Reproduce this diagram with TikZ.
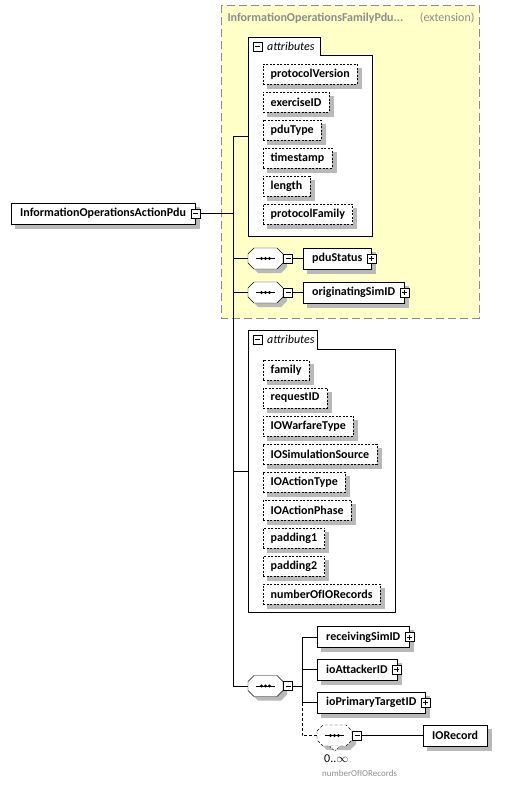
\documentclass[tikz,border=0pt]{standalone}
\usepackage{fontspec}
\setmainfont{Carlito}
\usetikzlibrary{positioning}
\definecolor{extfill}{RGB}{255,255,200}
\definecolor{extline}{RGB}{140,140,140}
\definecolor{shadegray}{RGB}{185,185,185}
\newcommand\elemfont{\fontsize{12}{14}\selectfont}
% boxed node with grey shadow: #1 style, #2 name, #3 west point, #4 text
\newcommand\boxnode[4][elem]{%
  \node[#1, fill=shadegray, draw=shadegray, solid, xshift=4pt, yshift=-4pt] (#2-shadow) at (#3) {\phantom{#4}};
  \node[#1] (#2) at (#3) {#4};}
% sequence compositor: #1 extra style, #2 name, #3 west point
\newcommand\seqbox[3][]{%
  \node[minimum width=35pt, minimum height=21pt, inner sep=0pt, anchor=west] (#2) at (#3) {};
  \begin{scope}[shift={(#2.west)}]
    \fill[shadegray] (4,-0.5) -- (10,-6.5) -- (33,-6.5) -- (39,-0.5) -- (39,8.5) -- (33,14.5) -- (10,14.5) -- (4,8.5) -- cycle;
    \draw[fill=white,#1] (0,-4.5) -- (6,-10.5) -- (29,-10.5) -- (35,-4.5) -- (35,4.5) -- (29,10.5) -- (6,10.5) -- (0,4.5) -- cycle;
    \draw (8,0) -- (27,0);
    \foreach \d in {13.5,17.5,21.5} \fill (\d,0) circle (1.6);
  \end{scope}}
\tikzset{
  elem/.style={draw, fill=white, font=\elemfont\bfseries, minimum height=21pt, inner xsep=9pt, inner ysep=0pt, anchor=west},
  attr/.style={elem, dash pattern=on 2pt off 1.5pt, minimum height=20pt, inner xsep=7.5pt},
  btn/.style={draw, fill=white, minimum size=9pt, inner sep=0pt},
  minus/.style={btn, path picture={\draw (path picture bounding box.center) ++(-2.5,0) -- ++(5,0);}},
  plus/.style={btn, path picture={\draw (path picture bounding box.center) ++(-2.5,0) -- ++(5,0)
      (path picture bounding box.center) ++(0,-2.5) -- ++(0,5);}},
}
\begin{document}
\begin{tikzpicture}[x=1pt,y=-1pt]
  \useasboundingbox (0,0) rectangle (522,786);
  %%%%% EXTENSION %%%%%
  \draw[extline, fill=extfill, dash pattern=on 8pt off 4pt] (221,5) rectangle (479,318);
  \node[anchor=west, text=extline, font=\elemfont\bfseries] (exttitle) at (224,18) {InformationOperationsFamilyPdu...};
  \node[anchor=east, text=extline, font=\elemfont] (extnote) at (478,18) {(extension)};

  \draw[fill=white] (248,37) -- (320,37) -- (320,55) -- (372,55) -- (372,236) -- (248,236) -- cycle;
  \node[minus] (attrs1btn) at (257.5,46.5) {};
  \node[anchor=west, font=\elemfont\itshape, inner sep=0pt] (attrs1lbl) at (267,46) {attributes};
  \coordinate (attrs1) at (248,136.5);
  \foreach \name [count=\i from 0] in {protocolVersion,exerciseID,pduType,timestamp,length,protocolFamily}{
    \boxnode[attr]{ext-\i}{263,74+28*\i}{\name}}

  \seqbox{seq1}{248,258.5}
  \node[minus, right=0pt of seq1] (seq1btn) {};
  \boxnode{pdustatus}{303,258.5}{pduStatus}
  \node[plus] (pdustatusbtn) at (pdustatus.east) {};
  \draw (seq1btn) -- (pdustatus);

  \seqbox{seq2}{248,292.5}
  \node[minus, right=0pt of seq2] (seq2btn) {};
  \boxnode{origsim}{303,292.5}{originatingSimID}
  \node[plus] (origsimbtn) at (origsim.east) {};
  \draw (seq2btn) -- (origsim);

  %%%%% ROOT %%%%%
  \boxnode{actionpdu}{11,213.5}{InformationOperationsActionPdu}
  \node[minus] (actionpdubtn) at (actionpdu.east) {};
  \coordinate (trunk) at (233,213.5);
  \draw (actionpdubtn) -- (trunk);
  \draw (attrs1) -| (trunk);
  \draw (seq1.west) -- (seq1.west -| trunk);
  \draw (seq2.west) -- (seq2.west -| trunk);

  %%%%% OWN ATTRIBUTES %%%%%
  \draw[fill=white] (248,330) -- (317,330) -- (317,349) -- (395,349) -- (395,612) -- (248,612) -- cycle;
  \node[minus] (attrs2btn) at (257.5,339.5) {};
  \node[anchor=west, font=\elemfont\itshape, inner sep=0pt] (attrs2lbl) at (267,339) {attributes};
  \coordinate (attrs2) at (248,471);
  \foreach \name [count=\i from 0] in {family,requestID,IOWarfareType,IOSimulationSource,IOActionType,IOActionPhase,padding1,padding2,numberOfIORecords}{
    \boxnode[attr]{own-\i}{263,370+28*\i}{\name}}
  \draw (attrs2) -- (attrs2 -| trunk);

  %%%%% SEQUENCE %%%%%
  \seqbox{seq3}{248,686}
  \node[minus, right=0pt of seq3] (seq3btn) {};
  \draw (seq3.west) -| (trunk);
  \coordinate (fork) at (302,686);
  \draw (seq3btn) -- (fork);

  \boxnode{recvsim}{317,637}{receivingSimID}
  \node[plus] (recvsimbtn) at (recvsim.east) {};
  \boxnode{attacker}{317,669.5}{ioAttackerID}
  \node[plus] (attackerbtn) at (attacker.east) {};
  \boxnode{primary}{317,702.5}{ioPrimaryTargetID}
  \node[plus] (primarybtn) at (primary.east) {};
  \draw (recvsim.west) -| (fork);
  \draw (attacker.west) -- (attacker.west -| fork);
  \draw (primary.west) -| (fork);

  \seqbox[dash pattern=on 3pt off 2pt]{seq4}{317,735.5}
  \draw[dash pattern=on 2pt off 1.5pt, fill=white] (seq4.south) ++(-5,0) -- ++(5,5) -- ++(5,-5);
  \node[minus, right=0pt of seq4] (seq4btn) {};
  \boxnode{iorecord}{423,735.5}{IORecord}
  \draw[dash pattern=on 3pt off 2pt] (seq4.west) -| (primary.west -| fork);
  \draw (seq4btn) -- (iorecord);
  \node[anchor=west, font=\elemfont, inner sep=0pt] (occurs) at (324,759) {0..$\infty$};
  \node[anchor=west, font=\fontsize{9}{10}\selectfont, text=extline, inner sep=0pt] (occursref) at (322,773) {numberOfIORecords};
\end{tikzpicture}
\end{document}
